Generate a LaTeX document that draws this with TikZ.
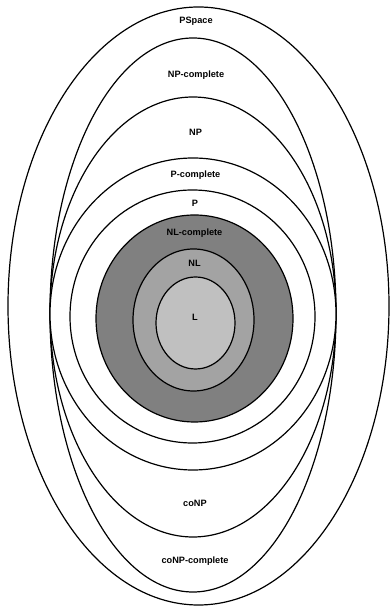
\documentclass[tikz,border=0pt]{standalone}
\usepackage{fontspec}
\setmainfont{Liberation Sans}
\definecolor{nlcfill}{RGB}{128,128,128}
\definecolor{nlfill}{RGB}{163,163,163}
\definecolor{lfill}{RGB}{192,192,192}
\tikzset{
  setline/.style={line width=1.2pt, black},
  lbl/.style={font=\fontsize{9.2}{10}\selectfont\bfseries, inner sep=0pt, anchor=center}
}
\begin{document}
\begin{tikzpicture}[x=1pt,y=1pt]
\useasboundingbox (0,0) rectangle (390,607);
% PSpace
\draw[setline] (198.5,301) ellipse [x radius=190.5, y radius=299];
% NP-complete and NP (upper halves)
\draw[setline] (50,294) arc [start angle=180, end angle=0, x radius=143, y radius=275];
\draw[setline] (50,294) arc [start angle=180, end angle=0, x radius=143, y radius=216];
% coNP-complete and coNP (lower halves)
\draw[setline] (50,294) arc [start angle=180, end angle=360, x radius=143, y radius=279];
\draw[setline] (50,294) arc [start angle=180, end angle=360, x radius=143, y radius=224];
% P-complete
\draw[setline, fill=white] (193,293) ellipse [x radius=143, y radius=156];
% P
\draw[setline, fill=white] (192.5,290.5) ellipse [x radius=122.5, y radius=126.5];
% NL-complete
\draw[setline, fill=nlcfill] (194.5,288.5) ellipse [x radius=98.5, y radius=103.5];
% NL
\draw[setline, fill=nlfill] (193.5,287) ellipse [x radius=60.5, y radius=71];
% L
\draw[setline, fill=lfill] (195.5,284) ellipse [x radius=39.5, y radius=46];
% labels
\node[lbl] (pspace) at (196,586) {PSpace};
\node[lbl] (npc) at (196,532) {NP-complete};
\node[lbl] (np) at (195.5,475) {NP};
\node[lbl] (pc) at (195.5,432) {P-complete};
\node[lbl] (p) at (195,404) {P};
\node[lbl] (nlc) at (194.5,374) {NL-complete};
\node[lbl] (nl) at (194.5,344) {NL};
\node[lbl] (l) at (195,290) {L};
\node[lbl] (conp) at (195,104) {coNP};
\node[lbl] (conpc) at (195,46) {coNP-complete};
\end{tikzpicture}
\end{document}
